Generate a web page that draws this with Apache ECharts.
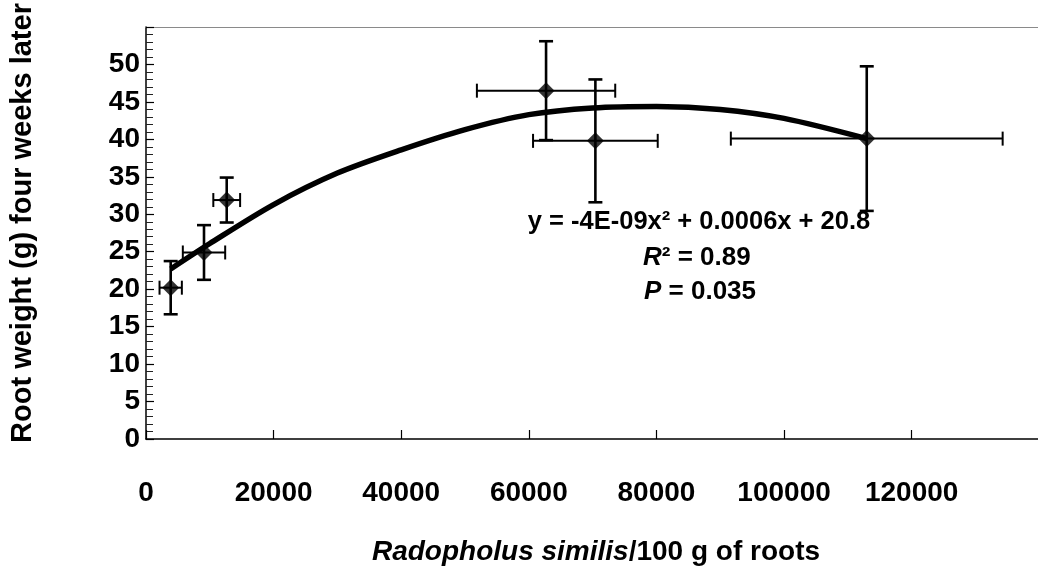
<!DOCTYPE html>
<html>
<head>
<meta charset="utf-8">
<script src="https://cdn.jsdelivr.net/npm/echarts@6/dist/echarts.min.js"></script>
<style>
  html, body { margin: 0; padding: 0; background: #fff; }
  #chart { width: 1038px; height: 578px; }
</style>
</head>
<body>
<div id="chart"></div>
<script>
// ---- data ----
const pointX = [3870, 9090, 12650, 62700, 70430, 112960];
const pointY = [20.2, 24.9, 31.9, 46.5, 39.8, 40.1];
const xErr   = [1750, 3320, 2100, 10840, 9770, 21300];
const yErr   = [3.55, 3.65, 3.0, 6.6, 8.2, 9.65];

const trendX = [3870, 10000, 20000, 30000, 40000, 50000, 60000, 70000, 80000, 90000, 100000, 112960];
const trendY = [22.7, 26.1, 31.3, 35.5, 38.6, 41.3, 43.3, 44.2, 44.4, 44.0, 42.8, 40.1];

const xTickLabels = ['0', '20000', '40000', '60000', '80000', '100000', '120000'];
const yTickLabels = ['0', '5', '10', '15', '20', '25', '30', '35', '40', '45', '50'];

const yTitle = 'Root weight (g) four weeks later';
const xTitleItalic = 'Radopholus similis';
const xTitleRest = '/100 g of roots';
const eqText = 'y = -4E-09x\u00B2 + 0.0006x + 20.8';
const r2Text = ['R', '\u00B2 = 0.89'];
const pText = ['P', ' = 0.035'];

// ---- build ----
const FONT = '"Liberation Sans", Arial, Helvetica, sans-serif';
const errData = pointX.map((x, i) => [x, pointY[i], xErr[i], yErr[i]]);
const ptData = pointX.map((x, i) => [x, pointY[i]]);
const trendData = trendX.map((x, i) => [x, trendY[i]]);

const chart = echarts.init(document.getElementById('chart'), null, { renderer: 'canvas' });

chart.setOption({
  animation: false,
  backgroundColor: '#ffffff',
  grid: { left: 146, right: 0, top: 27, bottom: 139, containLabel: false },
  xAxis: [{
    type: 'value', min: 0, max: 139800, interval: 20000,
    axisLine: { show: true, lineStyle: { color: '#000', width: 1.5 } },
    axisTick: { show: true, inside: true, length: 9, lineStyle: { color: '#000', width: 1.2 } },
    splitLine: { show: false },
    axisLabel: {
      margin: 40, color: '#000', fontSize: 28, fontWeight: 'bold', fontFamily: FONT,
      showMaxLabel: false,
      formatter: function (v) {
        const idx = Math.round(v / 20000);
        return (v % 20000 === 0 && idx < xTickLabels.length) ? xTickLabels[idx] : '';
      }
    }
  }, {
    type: 'value', min: 0, max: 139800, position: 'top',
    axisLine: { show: true, lineStyle: { color: '#8a8a8a', width: 1.2 } },
    axisTick: { show: false }, axisLabel: { show: false }, splitLine: { show: false }
  }],
  yAxis: {
    type: 'value', min: 0, max: 55, interval: 5,
    axisLine: { show: true, lineStyle: { color: '#000', width: 1.5 } },
    axisTick: { show: true, inside: true, length: 8, lineStyle: { color: '#000', width: 1.2 } },
    minorTick: { show: true, splitNumber: 5, length: 7, lineStyle: { color: '#222', width: 1 } },
    splitLine: { show: false },
    axisLabel: {
      margin: 6, color: '#000', fontSize: 28, fontWeight: 'bold', fontFamily: FONT,
      formatter: function (v) {
        const idx = Math.round(v / 5);
        return idx < yTickLabels.length ? yTickLabels[idx] : '';
      }
    }
  },
  series: [{
    type: 'line', data: trendData, smooth: 0.3, showSymbol: false,
    lineStyle: { color: '#000', width: 5.5 }, z: 2
  }, {
    type: 'custom', data: errData, z: 3,
    renderItem: function (params, api) {
      const x = api.value(0), y = api.value(1), ex = api.value(2), ey = api.value(3);
      const l = api.coord([x - ex, y]), r = api.coord([x + ex, y]);
      const t = api.coord([x, y + ey]), b = api.coord([x, y - ey]);
      const c = api.coord([x, y]);
      const cap = 7;
      const vs = { stroke: '#000', lineWidth: 2.6 };
      const hs = { stroke: '#000', lineWidth: 2 };
      return {
        type: 'group',
        children: [
          { type: 'line', shape: { x1: c[0], y1: t[1], x2: c[0], y2: b[1] }, style: vs },
          { type: 'line', shape: { x1: c[0] - cap, y1: t[1], x2: c[0] + cap, y2: t[1] }, style: vs },
          { type: 'line', shape: { x1: c[0] - cap, y1: b[1], x2: c[0] + cap, y2: b[1] }, style: vs },
          { type: 'line', shape: { x1: l[0], y1: c[1], x2: r[0], y2: c[1] }, style: hs },
          { type: 'line', shape: { x1: l[0], y1: c[1] - cap, x2: l[0], y2: c[1] + cap }, style: hs },
          { type: 'line', shape: { x1: r[0], y1: c[1] - cap, x2: r[0], y2: c[1] + cap }, style: hs }
        ]
      };
    }
  }, {
    type: 'scatter', data: ptData, symbol: 'diamond', symbolSize: [17, 17],
    itemStyle: { color: '#000' }, z: 4
  }],
  graphic: [{
    type: 'text', x: 23, y: 223, rotation: Math.PI / 2,
    style: {
      text: yTitle, fill: '#000', fontSize: 29, fontWeight: 'bold', fontFamily: FONT,
      align: 'center', verticalAlign: 'middle', textAlign: 'center', textVerticalAlign: 'middle'
    }
  }, {
    type: 'text', x: 596, y: 552,
    style: {
      text: '{i|' + xTitleItalic + '}{n|' + xTitleRest + '}',
      fill: '#000', fontSize: 28, fontWeight: 'bold', fontFamily: FONT,
      align: 'center', verticalAlign: 'middle', textAlign: 'center', textVerticalAlign: 'middle',
      rich: {
        i: { fontStyle: 'italic', fontWeight: 'bold', fontSize: 28, fontFamily: FONT, fill: '#000' },
        n: { fontWeight: 'bold', fontSize: 28, fontFamily: FONT, fill: '#000' }
      }
    }
  }, {
    type: 'text', x: 699, y: 222,
    style: {
      text: eqText, fill: '#000', fontSize: 25.5, fontWeight: 'bold', fontFamily: FONT,
      align: 'center', verticalAlign: 'middle', textAlign: 'center', textVerticalAlign: 'middle'
    }
  }, {
    type: 'text', x: 643, y: 258,
    style: {
      text: '{i|' + r2Text[0] + '}{n|' + r2Text[1] + '}',
      fill: '#000', fontSize: 26, fontWeight: 'bold', fontFamily: FONT,
      align: 'left', verticalAlign: 'middle', textAlign: 'left', textVerticalAlign: 'middle',
      rich: {
        i: { fontStyle: 'italic', fontWeight: 'bold', fontSize: 26, fontFamily: FONT, fill: '#000' },
        n: { fontWeight: 'bold', fontSize: 26, fontFamily: FONT, fill: '#000' }
      }
    }
  }, {
    type: 'text', x: 644, y: 292,
    style: {
      text: '{i|' + pText[0] + '}{n|' + pText[1] + '}',
      fill: '#000', fontSize: 26, fontWeight: 'bold', fontFamily: FONT,
      align: 'left', verticalAlign: 'middle', textAlign: 'left', textVerticalAlign: 'middle',
      rich: {
        i: { fontStyle: 'italic', fontWeight: 'bold', fontSize: 26, fontFamily: FONT, fill: '#000' },
        n: { fontWeight: 'bold', fontSize: 26, fontFamily: FONT, fill: '#000' }
      }
    }
  }]
});
</script>
</body>
</html>
